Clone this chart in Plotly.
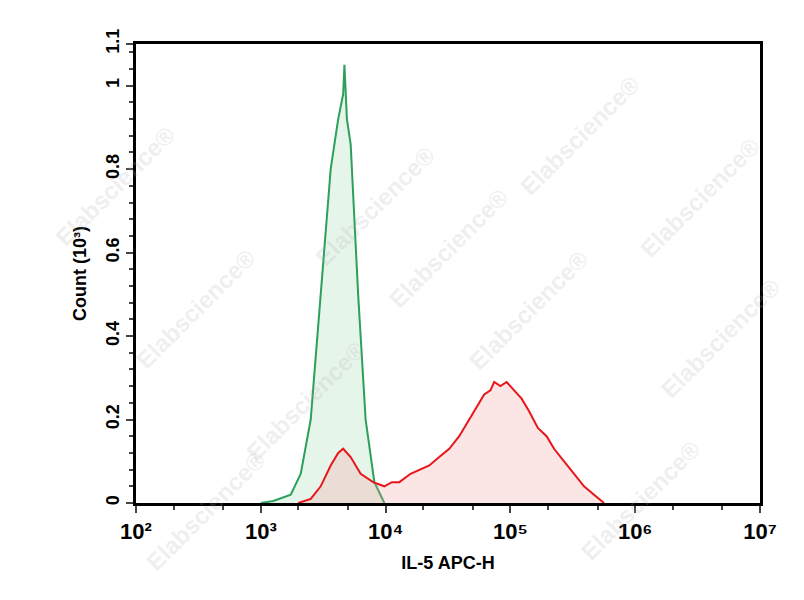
import plotly.graph_objects as go

green_logx = [3.00, 3.10, 3.24, 3.32, 3.40, 3.48, 3.56, 3.62, 3.66, 3.67, 3.69, 3.72, 3.78, 3.84, 3.91, 3.99]
green_y    = [0.00, 0.005, 0.02, 0.07, 0.20, 0.50, 0.80, 0.92, 0.98, 1.05, 0.92, 0.86, 0.50, 0.20, 0.05, 0.00]

red_logx = [3.30, 3.40, 3.48, 3.56, 3.62, 3.66, 3.72, 3.80, 3.90, 3.99, 4.05, 4.11, 4.20, 4.28, 4.35, 4.43, 4.51, 4.59, 4.67,
            4.73, 4.79, 4.84, 4.87, 4.92, 4.97, 5.03, 5.09, 5.15, 5.22, 5.29, 5.35, 5.43, 5.51, 5.59, 5.67, 5.75]
red_y    = [0.00, 0.01, 0.04, 0.09, 0.12, 0.13, 0.11, 0.07, 0.05, 0.04, 0.05, 0.05, 0.07, 0.08, 0.09, 0.11, 0.13, 0.16, 0.20,
            0.23, 0.26, 0.27, 0.29, 0.28, 0.29, 0.27, 0.25, 0.22, 0.18, 0.16, 0.13, 0.10, 0.07, 0.04, 0.02, 0.00]

x_tickvals = [1e2, 1e3, 1e4, 1e5, 1e6, 1e7]
x_ticktext = ["<b>10²</b>", "<b>10³</b>", "<b>10⁴</b>", "<b>10⁵</b>", "<b>10⁶</b>", "<b>10⁷</b>"]
y_tickvals = [0, 0.2, 0.4, 0.6, 0.8, 1.0, 1.1]
y_ticktext = ["<b>0</b>", "<b>0.2</b>", "<b>0.4</b>", "<b>0.6</b>", "<b>0.8</b>", "<b>1</b>", "<b>1.1</b>"]

fig = go.Figure()
fig.add_trace(go.Scatter(x=[10**v for v in green_logx], y=green_y, mode="lines", fill="tozeroy",
                         line=dict(color="#2ca05a", width=2), fillcolor="rgba(140,210,160,0.22)"))
fig.add_trace(go.Scatter(x=[10**v for v in red_logx], y=red_y, mode="lines", fill="tozeroy",
                         line=dict(color="#e8161b", width=2), fillcolor="rgba(245,150,150,0.25)"))

L, R, T, B = 128, 52, 36, 105
W, H = 804, 600
font = dict(family="Liberation Sans", size=17, color="black")
fig.update_layout(
    width=W, height=H, margin=dict(l=L, r=R, t=T, b=B, autoexpand=False),
    paper_bgcolor="white", plot_bgcolor="white", showlegend=False,
    font=font,
    xaxis=dict(type="log", range=[2, 7], tickvals=x_tickvals, ticktext=x_ticktext, automargin=False,
               ticks="outside", ticklen=7, tickwidth=2, showline=True, linewidth=2.5, linecolor="black",
               mirror=True, showgrid=False, zeroline=False, tickfont=dict(size=22, family="Liberation Sans"),
               minor=dict(ticks="outside", ticklen=4, tickwidth=1.5, showgrid=False),
               title=dict(text="<b>IL-5 APC-H</b>", font=dict(size=18), standoff=14)),
    yaxis=dict(range=[0, 1.1], tickvals=y_tickvals, ticktext=y_ticktext, tickangle=-90, automargin=False,
               ticks="outside", ticklen=7, tickwidth=2, showline=True, linewidth=2.5, linecolor="black",
               mirror=True, showgrid=False, zeroline=False, tickfont=dict(size=18),
               minor=dict(ticks="outside", ticklen=4, tickwidth=1.5, dtick=0.04, showgrid=False),
               title=dict(text="<b>Count (10³)</b>", font=dict(size=18), standoff=12)),
)

pw, ph = W - L - R, H - T - B
wm = [(40, 110), (300, 130), (640, 60), (120, 300), (440, 240), (760, 190), (230, 460), (520, 370), (780, 330), (700, 560), (130, 570)]
for (px, py) in wm:
    fig.add_annotation(x=(px - L) / pw, y=(H - B - py) / ph, xref="paper", yref="paper", text="<b>Elabscience®</b>",
                       showarrow=False, textangle=-45, font=dict(size=24, color="rgba(170,170,170,0.2)",
                       family="Liberation Sans"))

fig.write_html("out.html")
